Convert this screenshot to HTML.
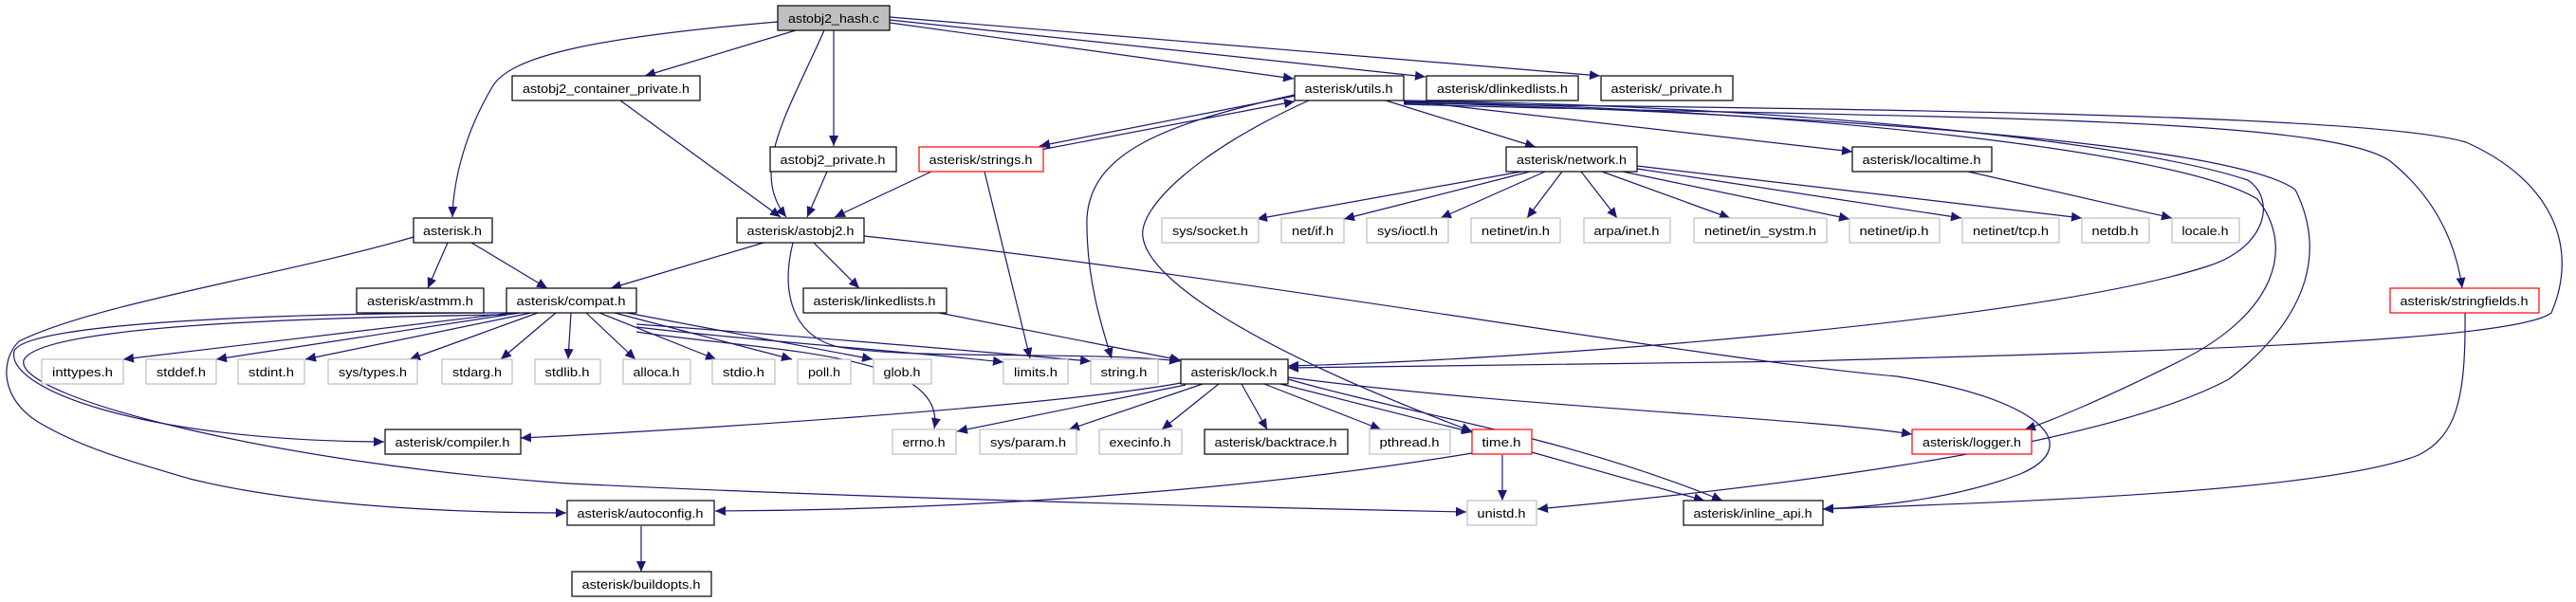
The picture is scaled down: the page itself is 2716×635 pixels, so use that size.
<!DOCTYPE html>
<html><head><meta charset="utf-8"><style>
html,body{margin:0;padding:0;background:#fff;}
svg{display:block;}
text{font-family:"Liberation Sans",sans-serif;font-size:13px;fill:#000;}
</style></head><body>
<svg width="2716" height="635" viewBox="0 0 2716 635" xmlns="http://www.w3.org/2000/svg">
<defs>
<marker id="a" markerUnits="userSpaceOnUse" markerWidth="12" markerHeight="10" refX="11" refY="5" orient="auto">
<path d="M0,0 L11,5 L0,10 Z" fill="#191970"/>
</marker>
</defs>
<g fill="none" stroke="#191970" stroke-width="1.2" marker-end="url(#a)">
<path d="M820,23 C620,40 540,60 520,90 C490,140 478,190 477,229"/>
<path d="M839,32 L680,80"/>
<path d="M869,32 C830,120 790,180 829,229"/>
<path d="M879,32 L879,154"/>
<path d="M938,24 L1364,83"/>
<path d="M938,21 L1503,81"/>
<path d="M938,18 L1687,80"/>
<path d="M654,106 L823,229"/>
<path d="M872,181 L851,229"/>
<path d="M982,181 L880,229"/>
<path d="M1366,101 L1096,154"/>
<path d="M1097,158 L1365,107"/>
<path d="M472,256 L451,304"/>
<path d="M497,256 L577,304"/>
<path d="M436,250 C300,290 100,320 20,360 C0,380 0,420 40,445 C90,475 150,490 200,505 C300,530 450,541 597,541"/>
<path d="M805,256 L644,304"/>
<path d="M858,256 L906,304"/>
<path d="M836,256 C825,300 830,350 880,365 C950,380 1150,370 1244,381"/>
<path d="M911,249 C1300,290 1800,380 2000,397 C2150,420 2200,470 2130,500 C2050,530 1960,535 1922,537"/>
<path d="M540,330 L130,379"/>
<path d="M548,330 L228,379"/>
<path d="M560,330 L322,379"/>
<path d="M567,330 L432,379"/>
<path d="M586,330 L528,379"/>
<path d="M602,330 L599,379"/>
<path d="M618,330 L670,379"/>
<path d="M632,330 L755,379"/>
<path d="M648,330 L835,379"/>
<path d="M661,330 L920,379"/>
<path d="M671,345 C800,360 950,370 1058,382"/>
<path d="M671,342 C850,355 1000,368 1150,381"/>
<path d="M671,350 C800,370 1000,370 985,452"/>
<path d="M534,330 C300,330 30,340 15,370 C5,410 150,465 405,466"/>
<path d="M534,332 C300,335 40,345 25,380 C15,420 300,490 600,510 C900,525 1300,535 1546,540"/>
<path d="M990,330 L1245,380"/>
<path d="M1038,181 L1086,378"/>
<path d="M1365,100 C1230,130 1150,160 1146,230 C1145,290 1160,340 1172,378"/>
<path d="M1380,106 C1260,160 1200,220 1205,250 C1210,290 1300,360 1552,455"/>
<path d="M1461,106 L1619,155"/>
<path d="M1480,106 L1953,160"/>
<path d="M1480,106 C1900,112 2250,150 2370,190 C2400,210 2390,260 2330,280 C2150,340 1600,380 1358,386"/>
<path d="M1480,107 C1900,115 2300,160 2380,210 C2420,260 2400,330 2300,380 C2220,420 2160,445 2135,453"/>
<path d="M1480,108 C1900,120 2350,150 2420,200 C2450,260 2440,330 2350,400 C2200,480 1800,520 1621,537"/>
<path d="M1480,109 C1950,115 2500,120 2600,150 C2690,190 2720,260 2690,330 C2650,360 2300,370 1900,381 L1358,388"/>
<path d="M1480,110 C2000,125 2450,120 2520,170 C2570,210 2590,260 2596,304"/>
<path d="M1604,181 L1325,231"/>
<path d="M1613,181 L1417,231"/>
<path d="M1629,181 L1519,230"/>
<path d="M1647,181 L1610,230"/>
<path d="M1667,181 L1705,230"/>
<path d="M1689,181 L1824,230"/>
<path d="M1711,181 L1950,231"/>
<path d="M1726,178 L2068,230"/>
<path d="M1726,175 L2195,230"/>
<path d="M2075,181 L2290,230"/>
<path d="M1245,404 C1100,430 700,455 549,462"/>
<path d="M1250,406 L1009,455"/>
<path d="M1268,405 L1127,453"/>
<path d="M1285,405 L1225,453"/>
<path d="M1309,405 L1336,453"/>
<path d="M1333,405 L1456,453"/>
<path d="M1350,405 L1552,456"/>
<path d="M1358,400 C1500,440 1650,460 1816,528"/>
<path d="M1358,398 C1600,430 1900,440 2016,458"/>
<path d="M1584,480 L1584,528"/>
<path d="M1615,477 L1797,528"/>
<path d="M1552,478 C1300,520 1000,538 754,539"/>
<path d="M676,555 L676,603"/>
<path d="M2599,330 C2600,420 2590,460 2550,480 C2450,520 2100,530 1922,537"/>
</g>
<g stroke-width="1.2" fill="#fff">
<rect x="820" y="6" width="118" height="26" fill="#bfbfbf" stroke="#000"/>
<rect x="540" y="80" width="198" height="26" stroke="#000"/>
<rect x="1365" y="80" width="115" height="26" stroke="#000"/>
<rect x="1504" y="80" width="160" height="26" stroke="#000"/>
<rect x="1688" y="80" width="139" height="26" stroke="#000"/>
<rect x="812" y="155" width="133" height="26" stroke="#000"/>
<rect x="969" y="155" width="131" height="26" stroke="#f00"/>
<rect x="1588" y="155" width="138" height="26" stroke="#000"/>
<rect x="1953" y="155" width="147" height="26" stroke="#000"/>
<rect x="436" y="230" width="83" height="26" stroke="#000"/>
<rect x="777" y="230" width="134" height="26" stroke="#000"/>
<rect x="1225" y="230" width="102" height="26" stroke="#bfbfbf"/>
<rect x="1351" y="230" width="66" height="26" stroke="#bfbfbf"/>
<rect x="1441" y="230" width="86" height="26" stroke="#bfbfbf"/>
<rect x="1551" y="230" width="94" height="26" stroke="#bfbfbf"/>
<rect x="1670" y="230" width="91" height="26" stroke="#bfbfbf"/>
<rect x="1786" y="230" width="140" height="26" stroke="#bfbfbf"/>
<rect x="1950" y="230" width="95" height="26" stroke="#bfbfbf"/>
<rect x="2069" y="230" width="102" height="26" stroke="#bfbfbf"/>
<rect x="2195" y="230" width="71" height="26" stroke="#bfbfbf"/>
<rect x="2290" y="230" width="71" height="26" stroke="#bfbfbf"/>
<rect x="376" y="304" width="134" height="26" stroke="#000"/>
<rect x="534" y="304" width="137" height="26" stroke="#000"/>
<rect x="847" y="304" width="151" height="26" stroke="#000"/>
<rect x="2520" y="304" width="157" height="26" stroke="#f00"/>
<rect x="44" y="379" width="86" height="26" stroke="#bfbfbf"/>
<rect x="154" y="379" width="74" height="26" stroke="#bfbfbf"/>
<rect x="251" y="379" width="70" height="26" stroke="#bfbfbf"/>
<rect x="346" y="379" width="94" height="26" stroke="#bfbfbf"/>
<rect x="466" y="379" width="74" height="26" stroke="#bfbfbf"/>
<rect x="564" y="379" width="69" height="26" stroke="#bfbfbf"/>
<rect x="657" y="379" width="71" height="26" stroke="#bfbfbf"/>
<rect x="751" y="379" width="66" height="26" stroke="#bfbfbf"/>
<rect x="841" y="379" width="56" height="26" stroke="#bfbfbf"/>
<rect x="921" y="379" width="61" height="26" stroke="#bfbfbf"/>
<rect x="1058" y="379" width="68" height="26" stroke="#bfbfbf"/>
<rect x="1150" y="379" width="71" height="26" stroke="#bfbfbf"/>
<rect x="1245" y="379" width="113" height="26" stroke="#000"/>
<rect x="406" y="453" width="143" height="26" stroke="#000"/>
<rect x="941" y="453" width="67" height="26" stroke="#bfbfbf"/>
<rect x="1033" y="453" width="102" height="26" stroke="#bfbfbf"/>
<rect x="1159" y="453" width="87" height="26" stroke="#bfbfbf"/>
<rect x="1270" y="453" width="151" height="26" stroke="#000"/>
<rect x="1444" y="453" width="85" height="26" stroke="#bfbfbf"/>
<rect x="1552" y="453" width="63" height="26" stroke="#f00"/>
<rect x="2016" y="453" width="126" height="26" stroke="#f00"/>
<rect x="598" y="528" width="155" height="26" stroke="#000"/>
<rect x="1547" y="528" width="73" height="26" stroke="#bfbfbf"/>
<rect x="1775" y="528" width="147" height="26" stroke="#000"/>
<rect x="603" y="603" width="147" height="26" stroke="#000"/>
</g>
<g text-anchor="middle" lengthAdjust="spacingAndGlyphs">
<text x="879" y="24" textLength="96" lengthAdjust="spacingAndGlyphs">astobj2_hash.c</text>
<text x="639" y="98" textLength="176" lengthAdjust="spacingAndGlyphs">astobj2_container_private.h</text>
<text x="1422" y="98" textLength="93" lengthAdjust="spacingAndGlyphs">asterisk/utils.h</text>
<text x="1584" y="98" textLength="138" lengthAdjust="spacingAndGlyphs">asterisk/dlinkedlists.h</text>
<text x="1757" y="98" textLength="117" lengthAdjust="spacingAndGlyphs">asterisk/_private.h</text>
<text x="878" y="173" textLength="111" lengthAdjust="spacingAndGlyphs">astobj2_private.h</text>
<text x="1034" y="173" textLength="109" lengthAdjust="spacingAndGlyphs">asterisk/strings.h</text>
<text x="1657" y="173" textLength="116" lengthAdjust="spacingAndGlyphs">asterisk/network.h</text>
<text x="2026" y="173" textLength="125" lengthAdjust="spacingAndGlyphs">asterisk/localtime.h</text>
<text x="477" y="248" textLength="62" lengthAdjust="spacingAndGlyphs">asterisk.h</text>
<text x="844" y="248" textLength="113" lengthAdjust="spacingAndGlyphs">asterisk/astobj2.h</text>
<text x="1276" y="248" fill="#000" textLength="80" lengthAdjust="spacingAndGlyphs">sys/socket.h</text>
<text x="1384" y="248" textLength="44" lengthAdjust="spacingAndGlyphs">net/if.h</text>
<text x="1484" y="248" textLength="64" lengthAdjust="spacingAndGlyphs">sys/ioctl.h</text>
<text x="1598" y="248" textLength="72" lengthAdjust="spacingAndGlyphs">netinet/in.h</text>
<text x="1715" y="248" textLength="69" lengthAdjust="spacingAndGlyphs">arpa/inet.h</text>
<text x="1856" y="248" textLength="118" lengthAdjust="spacingAndGlyphs">netinet/in_systm.h</text>
<text x="1997" y="248" textLength="73" lengthAdjust="spacingAndGlyphs">netinet/ip.h</text>
<text x="2120" y="248" textLength="80" lengthAdjust="spacingAndGlyphs">netinet/tcp.h</text>
<text x="2230" y="248" textLength="49" lengthAdjust="spacingAndGlyphs">netdb.h</text>
<text x="2325" y="248" textLength="49" lengthAdjust="spacingAndGlyphs">locale.h</text>
<text x="443" y="322" textLength="112" lengthAdjust="spacingAndGlyphs">asterisk/astmm.h</text>
<text x="602" y="322" textLength="115" lengthAdjust="spacingAndGlyphs">asterisk/compat.h</text>
<text x="922" y="322" textLength="129" lengthAdjust="spacingAndGlyphs">asterisk/linkedlists.h</text>
<text x="2598" y="322" textLength="135" lengthAdjust="spacingAndGlyphs">asterisk/stringfields.h</text>
<text x="87" y="397" textLength="64" lengthAdjust="spacingAndGlyphs">inttypes.h</text>
<text x="191" y="397" textLength="52" lengthAdjust="spacingAndGlyphs">stddef.h</text>
<text x="286" y="397" textLength="48" lengthAdjust="spacingAndGlyphs">stdint.h</text>
<text x="393" y="397" textLength="72" lengthAdjust="spacingAndGlyphs">sys/types.h</text>
<text x="503" y="397" textLength="52" lengthAdjust="spacingAndGlyphs">stdarg.h</text>
<text x="598" y="397" textLength="47" lengthAdjust="spacingAndGlyphs">stdlib.h</text>
<text x="692" y="397" textLength="49" lengthAdjust="spacingAndGlyphs">alloca.h</text>
<text x="784" y="397" textLength="44" lengthAdjust="spacingAndGlyphs">stdio.h</text>
<text x="869" y="397" textLength="34" lengthAdjust="spacingAndGlyphs">poll.h</text>
<text x="951" y="397" textLength="39" lengthAdjust="spacingAndGlyphs">glob.h</text>
<text x="1092" y="397" textLength="46" lengthAdjust="spacingAndGlyphs">limits.h</text>
<text x="1185" y="397" textLength="49" lengthAdjust="spacingAndGlyphs">string.h</text>
<text x="1301" y="397" textLength="91" lengthAdjust="spacingAndGlyphs">asterisk/lock.h</text>
<text x="477" y="471" textLength="121" lengthAdjust="spacingAndGlyphs">asterisk/compiler.h</text>
<text x="974" y="471" textLength="45" lengthAdjust="spacingAndGlyphs">errno.h</text>
<text x="1084" y="471" textLength="80" lengthAdjust="spacingAndGlyphs">sys/param.h</text>
<text x="1202" y="471" textLength="65" lengthAdjust="spacingAndGlyphs">execinfo.h</text>
<text x="1345" y="471" textLength="129" lengthAdjust="spacingAndGlyphs">asterisk/backtrace.h</text>
<text x="1486" y="471" textLength="63" lengthAdjust="spacingAndGlyphs">pthread.h</text>
<text x="1583" y="471" textLength="41" lengthAdjust="spacingAndGlyphs">time.h</text>
<text x="2079" y="471" textLength="104" lengthAdjust="spacingAndGlyphs">asterisk/logger.h</text>
<text x="675" y="546" textLength="133" lengthAdjust="spacingAndGlyphs">asterisk/autoconfig.h</text>
<text x="1583" y="546" textLength="51" lengthAdjust="spacingAndGlyphs">unistd.h</text>
<text x="1848" y="546" textLength="125" lengthAdjust="spacingAndGlyphs">asterisk/inline_api.h</text>
<text x="676" y="621" textLength="125" lengthAdjust="spacingAndGlyphs">asterisk/buildopts.h</text>
</g>
</svg>
</body></html>
